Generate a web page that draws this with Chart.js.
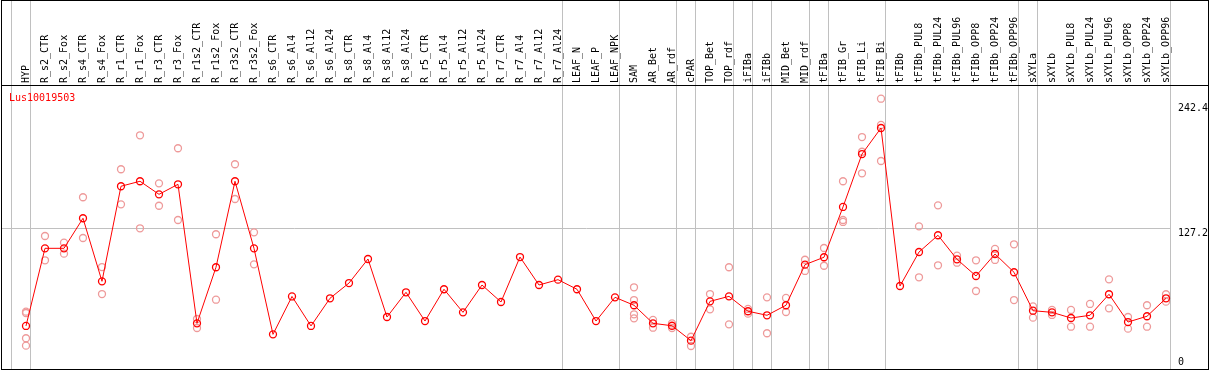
<!DOCTYPE html>
<html>
<head>
<meta charset="utf-8">
<script src="https://cdn.jsdelivr.net/npm/chart.js@4.4.1/dist/chart.umd.min.js"></script>
<style>
html, body { margin: 0; padding: 0; background: #fff; }
#frame { position: absolute; left: 1px; top: 0; width: 1208px; height: 370px; box-sizing: border-box; border: 1px solid #000; background: #fff; }
canvas { display: block; }
</style>
</head>
<body>
<div id="frame"><canvas id="c" width="1206" height="368"></canvas></div>
<script>
const geneId = 'Lus10019503';

const categories = [
  'HYP', 'R_s2_CTR', 'R_s2_Fox', 'R_s4_CTR', 'R_s4_Fox', 'R_r1_CTR', 'R_r1_Fox', 'R_r3_CTR', 'R_r3_Fox',
  'R_r1s2_CTR', 'R_r1s2_Fox', 'R_r3s2_CTR', 'R_r3s2_Fox', 'R_s6_CTR', 'R_s6_Al4', 'R_s6_Al12', 'R_s6_Al24',
  'R_s8_CTR', 'R_s8_Al4', 'R_s8_Al12', 'R_s8_Al24', 'R_r5_CTR', 'R_r5_Al4', 'R_r5_Al12', 'R_r5_Al24',
  'R_r7_CTR', 'R_r7_Al4', 'R_r7_Al12', 'R_r7_Al24', 'LEAF_N', 'LEAF_P', 'LEAF_NPK', 'SAM', 'AR_Bet', 'AR_rdf',
  'cPAR', 'TOP_Bet', 'TOP_rdf', 'iFIBa', 'iFIBb', 'MID_Bet', 'MID_rdf', 'tFIBa', 'tFIB_Gr', 'tFIB_Li', 'tFIB_Bi',
  'tFIBb', 'tFIBb_PUL8', 'tFIBb_PUL24', 'tFIBb_PUL96', 'tFIBb_OPP8', 'tFIBb_OPP24', 'tFIBb_OPP96',
  'sXYLa', 'sXYLb', 'sXYLb_PUL8', 'sXYLb_PUL24', 'sXYLb_PUL96', 'sXYLb_OPP8', 'sXYLb_OPP24', 'sXYLb_OPP96'
];

const meanValues = [
  37.7, 109.0, 109.0, 136.6, 78.7, 166.0, 170.6, 158.6, 167.8,
  40.1, 91.6, 170.6, 109.0, 30.0, 64.8, 37.7, 63.1,
  77.1, 99.2, 45.9, 68.6, 42.2, 71.4, 50.2, 75.3,
  59.7, 101.0, 75.3, 80.2, 71.4, 42.2, 64.0, 56.7, 40.1, 37.9,
  24.2, 60.3, 64.9, 51.2, 47.5, 56.7, 94.0, 100.8, 147.0, 195.6, 219.5,
  74.4, 105.6, 121.0, 98.9, 83.6, 103.8, 87.0,
  51.7, 50.2, 45.0, 47.5, 66.8, 41.3, 46.6, 63.1
];

const replicateValues = [
  [50.8, 49.6, 26.4, 19.6], [120.3, 98.0], [114.2, 104.1], [155.9, 118.5], [91.8, 67.0],
  [181.6, 149.4], [212.8, 127.4], [168.7, 148.1], [200.9, 135.0],
  [44.1, 35.8], [121.9, 61.8], [186.2, 154.3], [123.7, 94.3], [], [], [], [],
  [], [], [], [], [], [], [], [],
  [], [], [], [], [], [], [], [73.2, 61.5, 48.4, 44.7], [43.2, 36.1], [40.0, 35.8],
  [27.8, 19.3], [67.0, 53.0], [91.6, 39.2], [53.3, 49.0], [64.0, 31.0], [63.4, 50.5], [98.5, 88.2],
  [109.3, 93.0], [170.6, 135.0, 133.2], [211.2, 197.7, 177.9], [246.4, 222.3, 189.2],
  [], [129.2, 82.4], [148.5, 93.4], [102.2, 95.8], [98.0, 69.8], [108.4, 98.3], [112.7, 61.5],
  [55.7, 45.3], [52.4, 47.8], [52.4, 37.0], [57.9, 37.0], [80.5, 53.9], [45.9, 35.2], [56.7, 37.0], [66.8, 60.0]
];

const yTickValues = [0, 127.2, 242.4];
const yGridValue = 127.2;
// index of the last category in each group (group separators)
const groupEnds = [-1, 0, 28, 31, 34, 35, 37, 38, 39, 41, 42, 45, 52, 53, 60];

const X_MIN = -1.263, X_MAX = 60.263, Y_MIN = 0, Y_MAX = 259;
const SEP_SHIFT = 0.23;
const MONO = 'DejaVu Sans Mono';

const meanPoints = meanValues.map((v, i) => ({ x: i, y: v }));
const replicatePoints = [];
replicateValues.forEach((list, i) => list.forEach(v => replicatePoints.push({ x: i, y: v })));

const framePlugin = {
  id: 'framePlugin',
  beforeDraw(chart) {
    const { ctx } = chart;
    const xs = chart.scales.x;
    ctx.save();
    ctx.strokeStyle = '#c0c0c0';
    ctx.lineWidth = 1;
    groupEnds.forEach(g => {
      const px = Math.round(xs.getPixelForValue(g + SEP_SHIFT)) + 0.5;
      ctx.beginPath();
      ctx.moveTo(px, 0);
      ctx.lineTo(px, chart.height);
      ctx.stroke();
    });
    ctx.restore();
  },
  afterDraw(chart) {
    const { ctx, chartArea } = chart;
    ctx.save();
    ctx.strokeStyle = '#000';
    ctx.lineWidth = 1;
    const y = Math.round(chartArea.top) + 0.5;
    ctx.beginPath();
    ctx.moveTo(0, y);
    ctx.lineTo(chart.width, y);
    ctx.stroke();
    ctx.fillStyle = '#ff0000';
    ctx.font = '10px "' + MONO + '"';
    ctx.textBaseline = 'alphabetic';
    ctx.textAlign = 'left';
    ctx.fillText(geneId, chartArea.left + 7, chartArea.top + 16);
    ctx.restore();
  }
};

new Chart(document.getElementById('c'), {
  type: 'line',
  data: {
    datasets: [
      {
        type: 'line',
        data: meanPoints,
        borderColor: '#ff0000',
        borderWidth: 1,
        pointRadius: 3.5,
        pointBorderWidth: 1.3,
        pointBorderColor: '#ff0000',
        pointBackgroundColor: 'rgba(0,0,0,0)',
        tension: 0,
        order: 1
      },
      {
        type: 'scatter',
        data: replicatePoints,
        showLine: false,
        pointRadius: 3.5,
        pointBorderWidth: 1.3,
        pointBorderColor: '#ee9a9a',
        pointBackgroundColor: 'rgba(0,0,0,0)',
        order: 2
      }
    ]
  },
  options: {
    responsive: false,
    animation: false,
    devicePixelRatio: 1,
    layout: { autoPadding: false, padding: { left: 0, right: 0, top: 0, bottom: 2 } },
    plugins: { legend: { display: false }, tooltip: { enabled: false }, title: { display: false } },
    scales: {
      x: {
        type: 'linear',
        position: 'top',
        min: X_MIN,
        max: X_MAX,
        afterBuildTicks: s => { s.ticks = categories.map((_, i) => ({ value: i })); },
        afterFit: s => { s.height = 84; s.paddingLeft = 0; s.paddingRight = 0; },
        ticks: {
          autoSkip: false,
          minRotation: 90,
          maxRotation: 90,
          padding: 2,
          labelOffset: 12,
          color: '#000',
          font: { family: MONO, size: 10 },
          callback: v => categories[v]
        },
        grid: { display: false, drawTicks: false },
        border: { display: true, color: '#000', width: 1 }
      },
      y: {
        type: 'linear',
        position: 'right',
        min: Y_MIN,
        max: Y_MAX,
        afterBuildTicks: s => { s.ticks = yTickValues.map(v => ({ value: v })); },
        afterFit: s => { s.width = 37; s.paddingTop = 0; s.paddingBottom = 0; },
        ticks: {
          align: 'start',
          padding: 7,
          color: '#000',
          font: ctx => ({ family: MONO, size: 10, lineHeight: (ctx.tick && ctx.tick.value === 0) ? 2 : 1.2 }),
          callback: v => (v === 0 ? ['0', ''] : String(v))
        },
        grid: {
          drawTicks: false,
          color: ctx => (ctx.tick && ctx.tick.value === yGridValue) ? '#c0c0c0' : 'rgba(0,0,0,0)'
        },
        border: { display: false }
      }
    }
  },
  plugins: [framePlugin]
});
</script>
</body>
</html>
